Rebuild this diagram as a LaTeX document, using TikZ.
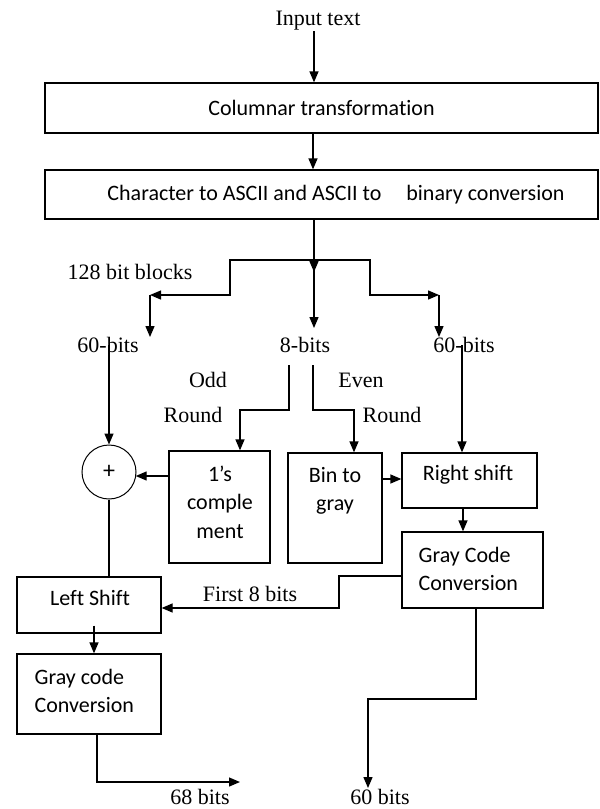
\documentclass[tikz,border=0pt]{standalone}
\usepackage{fontspec}
\setmainfont{Liberation Serif}
\newfontfamily\calibrifont[Ligatures={NoCommon,NoRequired,NoContextual}]{Carlito}
\usetikzlibrary{arrows.meta,calc}
\begin{document}
\begin{tikzpicture}[x=1pt,y=-1pt, line width=1.3pt,
  >={Triangle[length=11pt,width=9pt]},
  box/.style={draw, line width=1.3pt, inner sep=0pt, font=\calibrifont\fontsize{22}{28.5}\selectfont, align=center},
  intext/.style={inner sep=0pt, font=\calibrifont\fontsize{22}{28.5}\selectfont},
  lbl/.style={inner sep=0pt, font=\fontsize{22}{26}\selectfont},
  ]
\useasboundingbox (0,0) rectangle (600,809);

% top
\node[lbl] (in) at (318,21) {Input text};
\node[box, minimum width=553pt, minimum height=50pt] (col) at (321.5,108) {Columnar transformation};
\node[box, minimum width=553pt, minimum height=49pt] (asc) at (321.5,194.5) {\hspace*{29pt}Character to ASCII and ASCII to\hspace{25pt}binary conversion};

\draw[->] (in.south -| 314,0) -- (col.north -| 314,0);
\draw[->] (col.south -| 313,0) -- (asc.north -| 313,0);

% labels
\node[lbl] (blk) at (130,272) {128 bit blocks};
\node[lbl] (b60l) at (108,345) {60-bits};
\node[lbl] (b8) at (305,345) {8-bits};
\node[lbl] (b60r) at (464,345) {60-bits};
\node[lbl] (odd) at (208,380) {Odd};
\node[lbl] (oddr) at (193,415) {Round};
\node[lbl] (even) at (361,380) {Even};
\node[lbl] (evenr) at (392,415) {Round};

% branching
\coordinate (j) at (314,260);
\draw[->] (asc.south -| 314,0) -- (314,272);
\draw[->] (314,268) -- (314,328);
\draw[->] (j) -| (230,295) -- (150,295);
\draw[->] (150,295) -- (150,337);
\draw[->] (j) -| (370,295) -- (439,295);
\draw[->] (439,295) -- (439,337);

% middle boxes
\node[draw, circle, minimum size=54pt, inner sep=0pt, line width=1pt, font=\calibrifont\fontsize{24}{26}\selectfont] (xor) at (109,472) {\raisebox{-7pt}{+}};
\node[box, minimum width=101pt, minimum height=112pt] (ones) at (219.5,507) {};
\node[intext, align=center] (onest) at (220,502) {1’s\\comple\\ment};
\node[box, minimum width=94pt, minimum height=110pt] (b2g) at (335,508) {};
\node[intext, align=center] (b2gt) at (335,491) {Bin to\\gray};
\node[box, minimum width=135pt, minimum height=55pt] (rs) at (469.5,480.5) {};
\node[intext] (rst) at (468,475) {Right shift};
\node[box, minimum width=141pt, minimum height=76pt] (gcc) at (472.5,570) {};
\node[intext, align=left, anchor=west] (gcct) at (418,569) {Gray Code\\Conversion};
\node[box, minimum width=144pt, minimum height=56pt] (ls) at (89,605) {};
\node[intext] (lst) at (90,598) {Left Shift};
\node[box, minimum width=144pt, minimum height=80pt] (gc2) at (89,694) {};
\node[intext, align=left, anchor=west] (gc2t) at (34,691) {Gray code\\Conversion};

\draw[->] (b60l.center -| xor.north) -- (xor.north);
\draw[->] (289,365) |- (240,410) -- (ones.north -| 240,0);
\draw[->] (313,365) |- (354,410) -- (b2g.north -| 354,0);
\draw[->] (b60r.center -| 462,0) -- (rs.north -| 462,0);
\draw[->] (ones.west |- 0,476) -- (135.7,476);
\draw[->] (b2g.east |- 0,479) -- (rs.west |- 0,479);
\draw[->] (rs.south -| 463,0) -- (gcc.north -| 463,0);
\draw[->] (gcc.west |- 0,576) -- (339,576) |- (ls.east |- 0,608);
\node[lbl] (f8) at (250,594) {First 8 bits};
\draw (xor.south) -- (ls.north -| xor.south);
\draw[->] ($(ls.south -| 94,0)+(0,-8)$) -- (gc2.north -| 94,0);

% outputs
\draw[->] (gc2.south -| 97,0) |- (240,782);
\node[lbl] (o68) at (200,797) {68 bits};
\draw[->] (gcc.south -| 476,0) |- (368,699) -- (368,788);
\node[lbl] (o60) at (380,797) {60 bits};
\end{tikzpicture}
\end{document}
